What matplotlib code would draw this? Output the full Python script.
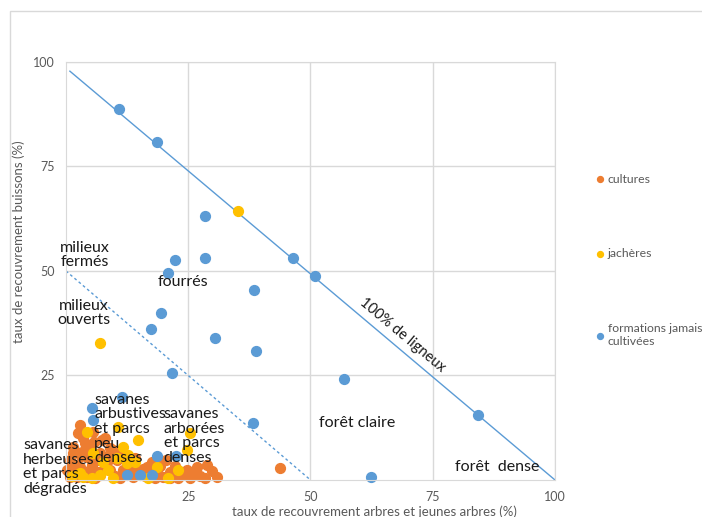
import matplotlib

matplotlib.use("Agg")
import matplotlib.pyplot as plt
from matplotlib.patches import Rectangle

plt.rcParams["font.family"] = ["Lato", "DejaVu Sans"]

# couverture arbres (x, %) / buissons (y, %) par type d'occupation
cultures_x = [2.9, 2.5, 3.5, 3.9, 3.3, 4.3, 2.9, 5.3, 7.0, 8.0, 6.3, 8.4, 9.0, 10.4,
              11.7, 13.7, 15.1, 16.6, 18.6, 19.8, 21.3, 22.9, 24.7, 26.0, 27.4, 28.8,
              30.9, 43.8, 0.2, 0.8, 2.2, 4.3, 9.6, 5.5, 1.4, 0.8, 1.8, 4.9, 7.0, 8.0,
              10.0, 11.0, 12.7, 14.1, 16.2, 17.6, 19.2, 20.4, 22.3, 23.7, 7.4, 9.0,
              4.9, 11.0, 18.2, 21.3, 25.4, 28.4, 1.5, 3.0, 5.8, 6.6, 2.0, 3.8, 6.0,
              8.8, 12.0, 13.2, 15.8, 17.0, 24.0, 26.8, 29.8]
cultures_y = [13.2, 11.2, 10.0, 8.9, 6.7, 5.5, 3.1, 3.6, 6.5, 10.0, 4.8, 4.3, 2.4, 4.8,
              2.4, 0.7, 2.4, 3.1, 2.4, 0.7, 1.9, 0.5, 2.4, 1.2, 1.0, 3.6,
              0.7, 2.9, 2.4, 0.7, 0.7, 0.7, 7.2, 11.5, 6.5, 4.8, 3.6, 2.4, 1.2, 3.3,
              1.0, 6.0, 3.6, 5.3, 1.0, 4.3, 3.3, 4.8, 3.3, 1.9, 9.6, 7.7,
              7.7, 0.5, 0.5, 0.5, 0.5, 0.5, 8.0, 5.8, 9.0, 2.0, 1.8, 1.5, 0.5,
              5.8, 1.5, 2.8, 2.6, 1.8, 1.3, 3.0, 2.2]

jacheres_x = [35.2, 7.0, 4.3, 10.6, 14.7, 2.9, 3.5, 10.4, 12.5, 8.6, 18.6, 20.9, 16.8,
              25.4, 24.7, 7.0, 5.5, 12.7, 14.1, 1.2, 5.3, 9.6, 22.9, 7.6, 11.7]
jacheres_y = [64.4, 32.8, 11.5, 12.7, 9.6, 1.7, 0.7, 5.3, 4.1, 2.4, 3.1, 0.5, 0.5,
              11.2, 7.2, 1.2, 6.5, 6.0, 4.3, 1.0, 0.5, 0.5, 2.4, 4.3, 7.9]

formations_x = [10.8, 18.6, 28.4, 22.3, 28.4, 20.9, 46.4, 50.9, 38.4, 19.4, 17.4, 30.5,
                38.9, 21.7, 56.9, 84.3, 38.2, 62.4, 5.3, 5.5, 11.5, 18.6, 22.5, 12.5,
                15.1, 17.6]
formations_y = [88.8, 80.9, 63.2, 52.6, 53.1, 49.5, 53.1, 48.8, 45.5, 40.0, 36.1, 34.0,
                30.9, 25.6, 24.2, 15.6, 13.6, 0.7, 17.2, 14.4, 19.9, 5.7, 5.7, 1.2,
                1.2, 1.2]

ticks = [25, 50, 75, 100]

fig = plt.figure(figsize=(7.02, 5.17), dpi=100)
ax = fig.add_axes([0.094, 0.0716, 0.6966, 0.8085])

grey = "#D9D9D9"
ax.set_xlim(0, 100)
ax.set_ylim(0, 100)
ax.set_xticks(ticks)
ax.set_yticks(ticks)
ax.grid(True, color=grey, linewidth=1)
ax.set_axisbelow(True)
ax.tick_params(length=0, labelsize=9, colors="#595959", pad=8)
for s in ax.spines.values():
    s.set_color(grey)

# limites 100 % ligneux et 50 % (milieux ouverts / fermés)
ax.plot([0.8, 100], [97.8, 0], color="#5B9BD5", lw=1, zorder=1)
ax.plot([0, 50], [50, 0], color="#5B9BD5", lw=1, ls=(0, (2, 2)), zorder=1)

ms = 50
ax.scatter(cultures_x, cultures_y, s=ms, color="#ED7D31", label="cultures", zorder=2, clip_on=False)
ax.scatter(jacheres_x, jacheres_y, s=ms, color="#FFC000", label="jachères", zorder=2, clip_on=False)
ax.scatter(formations_x, formations_y, s=ms, color="#5B9BD5",
           label="formations jamais\ncultivées", zorder=2, clip_on=False)

tk = dict(fontsize=11.5, color="#1a1a1a", linespacing=1.05, zorder=4)
ax.text(3.9, 53.8, "milieux\nfermés", ha="center", va="center", **tk)
ax.text(3.7, 40.0, "milieux\nouverts", ha="center", va="center", **tk)
ax.text(23.9, 47.4, "fourrés", ha="center", va="center", **tk)
ax.text(59.5, 13.6, "forêt claire", ha="center", va="center", **tk)
ax.text(88.1, 3.1, "forêt  dense", ha="center", va="center", **tk)
ax.text(5.8, 12.2, "savanes\narbustives\net parcs\npeu\ndenses", ha="left", va="center", **tk)
ax.text(20.0, 10.5, "savanes\narborées\net parcs\ndenses", ha="left", va="center", **tk)
ax.text(-8.8, 3.1, "savanes\nherbeuses\net parcs\ndégradés", ha="left", va="center", **tk)
ax.text(68.7, 34.7, "100% de ligneux", rotation=-40, ha="center", va="center",
        fontsize=10.5, color="#1a1a1a", zorder=4)

ax.set_xlabel("taux de recouvrement arbres et jeunes arbres (%)", fontsize=9.5,
              color="#595959", labelpad=2, x=0.63)
ax.set_ylabel("taux de recouvrement buissons (%)", fontsize=9.5, color="#595959",
              labelpad=6, y=0.57)

fig.legend(loc="upper left", bbox_to_anchor=(0.838, 0.676), frameon=False,
           fontsize=8.8, labelcolor="#595959", markerscale=0.6, handletextpad=0.1,
           handlelength=1.0, labelspacing=5.2, borderpad=0)

# cadre du graphique
fig.add_artist(Rectangle((0.0142, -0.1), 1.2, 1.0787, transform=fig.transFigure,
                         fill=False, edgecolor=grey, lw=1))

fig.savefig("out.png", dpi=100, facecolor="white")
